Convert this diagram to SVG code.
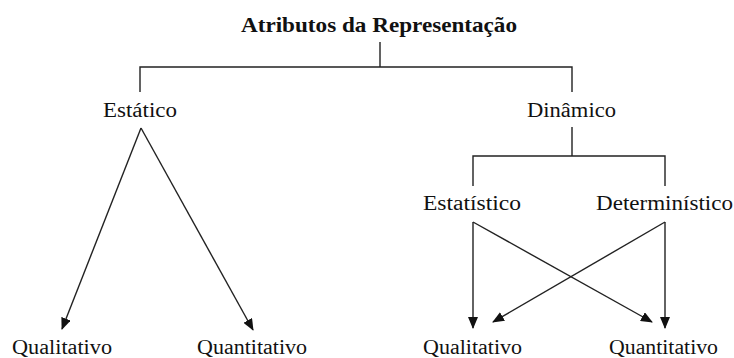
<svg xmlns="http://www.w3.org/2000/svg" width="734" height="358" viewBox="0 0 734 358">
<style>
text{font-family:'Liberation Serif','DejaVu Serif',serif;font-size:20px;fill:#111}
.t{font-weight:bold;font-size:21px}
.l{stroke:#222;stroke-width:1.4;fill:none}
.a{stroke:#222;stroke-width:1.4;fill:none;marker-end:url(#ah)}
</style>
<defs>
<marker id="ah" markerUnits="userSpaceOnUse" markerWidth="12" markerHeight="10" refX="11" refY="5" orient="auto" viewBox="0 0 12 10">
<path d="M0,0 L12,5 L0,10 Z" fill="#111"/>
</marker>
</defs>
<rect width="734" height="358" fill="#fff"/>
<g id="connectors">
<path class="l" d="M380,42 V67 M140,92 V67 H572 V92"/>
<path class="l" d="M572,127 V156 M473,186 V156 H665 V186"/>
<line class="a" x1="141" y1="128" x2="62" y2="329"/>
<line class="a" x1="141" y1="128" x2="253" y2="330"/>
<line class="a" x1="473" y1="222" x2="473" y2="328"/>
<line class="a" x1="473" y1="222" x2="652" y2="322"/>
<line class="a" x1="665" y1="222" x2="665" y2="328"/>
<line class="a" x1="665" y1="222" x2="493" y2="322"/>
</g>
<g font-family="Liberation Serif, DejaVu Serif, serif">
<g id="root"><text class="t" x="241" y="32" textLength="276" lengthAdjust="spacingAndGlyphs">Atributos da Representação</text></g>
<g id="estatico"><text x="103" y="117" textLength="74" lengthAdjust="spacingAndGlyphs">Estático</text></g>
<g id="dinamico"><text x="527" y="117" textLength="89" lengthAdjust="spacingAndGlyphs">Dinâmico</text></g>
<g id="estatistico"><text x="423" y="210" textLength="98" lengthAdjust="spacingAndGlyphs">Estatístico</text></g>
<g id="deterministico"><text x="596" y="210" textLength="137" lengthAdjust="spacingAndGlyphs">Determinístico</text></g>
<g id="qual-est"><text x="12" y="354" textLength="100" lengthAdjust="spacingAndGlyphs">Qualitativo</text></g>
<g id="quant-est"><text x="197" y="354" textLength="110" lengthAdjust="spacingAndGlyphs">Quantitativo</text></g>
<g id="qual-din"><text x="423" y="354" textLength="99" lengthAdjust="spacingAndGlyphs">Qualitativo</text></g>
<g id="quant-din"><text x="609" y="354" textLength="109" lengthAdjust="spacingAndGlyphs">Quantitativo</text></g>
</g>
</svg>
